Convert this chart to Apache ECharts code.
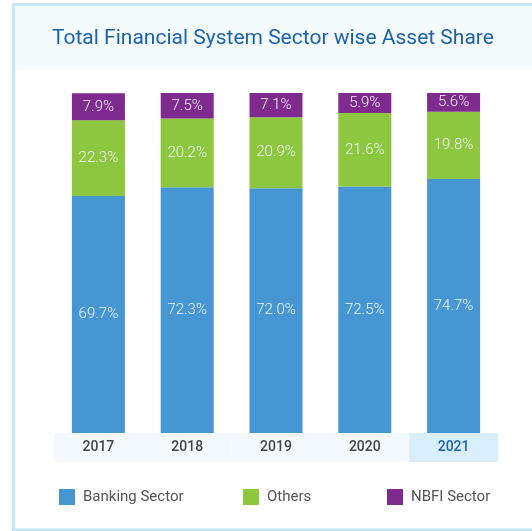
<!DOCTYPE html>
<html>
<head>
<meta charset="utf-8">
<script src="https://cdn.jsdelivr.net/npm/echarts@6/dist/echarts.min.js"></script>
<style>
  html, body { margin: 0; padding: 0; background: #ffffff; }
  #chart { width: 532px; height: 531px; }
</style>
</head>
<body>
<div id="chart"></div>
<script>
// Years on the x axis
const years = ['2017', '2018', '2019', '2020', '2021'];
// Share of total financial system assets, percent
const banking = [69.7, 72.3, 72.0, 72.5, 74.7];
const others = [22.3, 20.2, 20.9, 21.6, 19.8];
const nbfi = [7.9, 7.5, 7.1, 5.9, 5.6];
const highlightYear = '2021';

const FONT = 'Roboto, "Noto Sans", sans-serif';
const COLORS = { banking: '#4596d3', others: '#8dc63f', nbfi: '#7e2a8f' };

const chart = echarts.init(document.getElementById('chart'), null, { renderer: 'canvas' });

function stackSeries(name, values, color) {
  return {
    name: name,
    type: 'bar',
    stack: 'share',
    barWidth: 53,
    data: values,
    itemStyle: { color: color },
    label: {
      show: true,
      position: 'inside',
      formatter: p => p.value.toFixed(1) + '%',
      color: '#f2f5fb',
      fontFamily: FONT,
      fontSize: 15,
      fontWeight: 300
    },
    emphasis: { disabled: true }
  };
}

function legendAt(name, left) {
  return {
    data: [name],
    left: left,
    top: 489,
    padding: 0,
    icon: 'rect',
    itemWidth: 16,
    itemHeight: 16,
    textStyle: { color: '#555555', fontFamily: FONT, fontSize: 15, padding: [0, 0, 0, 3] },
    selectedMode: false
  };
}

chart.setOption({
  animation: false,
  graphic: [
    { type: 'rect', z: -10, shape: { x: 15, y: 6, width: 517, height: 64 }, style: { fill: '#f5fafd' } },
    { type: 'rect', z: -9, shape: { x: 13.5, y: 4.5, width: 600, height: 525.5 },
      style: { fill: 'none', stroke: '#c4e7f8', lineWidth: 3 } }
  ],
  title: {
    text: 'Total Financial System Sector wise Asset Share',
    left: 52,
    top: 28,
    padding: 0,
    textStyle: { color: '#1a63ae', fontFamily: FONT, fontSize: 21, fontWeight: 'normal' }
  },
  legend: [
    legendAt('Banking Sector', 59),
    legendAt('Others', 243),
    legendAt('NBFI Sector', 387)
  ],
  grid: { left: 54, right: 34, top: 93, bottom: 98 },
  xAxis: {
    type: 'category',
    data: years,
    axisLine: { show: false },
    axisTick: { show: false },
    axisLabel: {
      interval: 0,
      margin: 0,
      formatter: v => (v === highlightYear ? '{h|' + v + '}' : '{n|' + v + '}'),
      rich: {
        n: { width: 88.8, height: 29, align: 'center', backgroundColor: '#f3f9fd',
             color: '#444444', fontFamily: FONT, fontSize: 14, fontWeight: 500 },
        h: { width: 88.8, height: 29, align: 'center', backgroundColor: '#d9eefb',
             color: '#1a63ae', fontFamily: FONT, fontSize: 14, fontWeight: 500 }
      }
    }
  },
  yAxis: {
    type: 'value',
    min: 0,
    max: 100,
    show: false,
    splitLine: { show: false }
  },
  series: [
    stackSeries('Banking Sector', banking, COLORS.banking),
    stackSeries('Others', others, COLORS.others),
    stackSeries('NBFI Sector', nbfi, COLORS.nbfi)
  ]
});
</script>
</body>
</html>
